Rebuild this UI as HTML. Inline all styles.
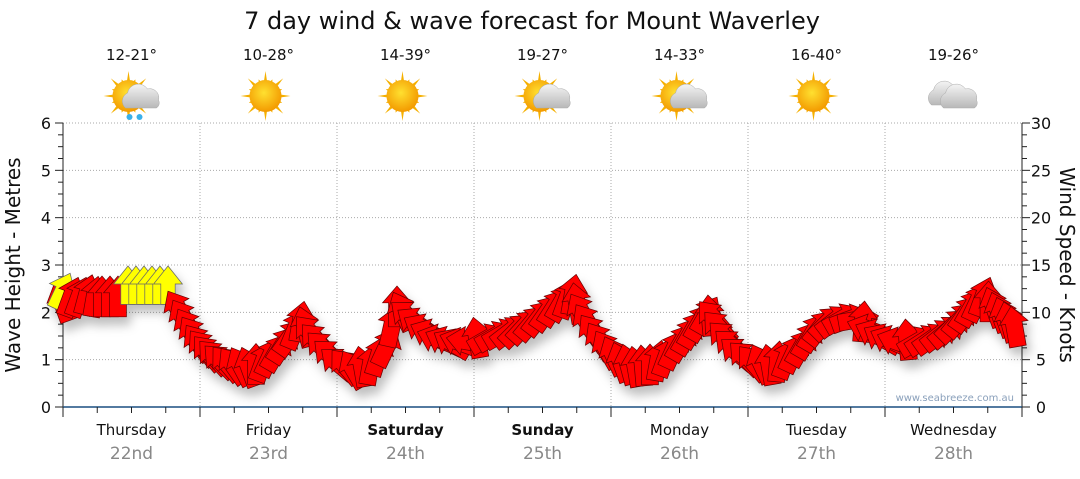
<!DOCTYPE html>
<html><head><meta charset="utf-8"><style>
body{margin:0;background:#fff;width:1080px;height:475px;overflow:hidden;font-family:"DejaVu Sans","Liberation Sans",sans-serif}
</style></head><body>
<svg id="s" width="1080" height="475" xmlns="http://www.w3.org/2000/svg" font-family="DejaVu Sans, Liberation Sans, sans-serif">
<defs>
<radialGradient id="sun" cx="45%" cy="40%" r="60%"><stop offset="0" stop-color="#ffe030"/><stop offset="1" stop-color="#f39a00"/></radialGradient>
<linearGradient id="cl" x1="0" y1="0" x2="0" y2="1"><stop offset="0" stop-color="#f4f4f4"/><stop offset="1" stop-color="#b8b8b8"/></linearGradient>
<filter id="sh" x="-20%" y="-20%" width="140%" height="160%"><feDropShadow dx="4" dy="8" stdDeviation="5" flood-color="#000" flood-opacity="0.25"/></filter>
</defs>
<text x="532" y="29" font-size="24" text-anchor="middle" fill="#111">7 day wind &amp; wave forecast for Mount Waverley</text>
<g id="grid"></g>
<g id="icons"></g>
<g id="arr" filter="url(#sh)"></g>
<text x="1014" y="401" font-size="10" text-anchor="end" fill="#8aa0bb">www.seabreeze.com.au</text>
<text transform="translate(20,265) rotate(-90)" font-size="20" text-anchor="middle" fill="#111">Wave Height - Metres</text>
<text transform="translate(1060,265) rotate(90)" font-size="20" text-anchor="middle" fill="#111">Wind Speed - Knots</text>
</svg>
<script>
const NS="http://www.w3.org/2000/svg";
function el(p,t,a,txt){const e=document.createElementNS(NS,t);for(const k in a)e.setAttribute(k,a[k]);if(txt!=null)e.textContent=txt;p.appendChild(e);return e;}
const g=document.getElementById('grid');
const X0=63,X1=1022,Y0=407,Y6=123,DW=(X1-X0)/7;
for(let i=1;i<=6;i++){const y=Y0-i*(Y0-Y6)/6;el(g,'line',{x1:X0,x2:X1,y1:y,y2:y,stroke:'#aaa','stroke-dasharray':'1,2'});}
for(let d=1;d<7;d++){const x=X0+d*DW;el(g,'line',{x1:x,x2:x,y1:Y6,y2:Y0,stroke:'#aaa','stroke-dasharray':'1,2'});}
el(g,'line',{x1:X0,x2:X0,y1:Y6,y2:Y0,stroke:'#222'});
el(g,'line',{x1:X1,x2:X1,y1:Y6,y2:Y0,stroke:'#222'});
el(g,'line',{x1:X0,x2:X1,y1:Y0,y2:Y0,stroke:'#1a4f80','stroke-width':1.5});
for(let i=0;i<=24;i++){const y=Y0-i*(Y0-Y6)/24;const big=i%4==0;el(g,'line',{x1:X0-(big?8:5),x2:X0,y1:y,y2:y,stroke:'#222'});el(g,'line',{x1:X1,x2:X1+(big?8:5),y1:y,y2:y,stroke:'#222'});}
for(let i=0;i<=6;i++){const y=Y0-i*(Y0-Y6)/6;el(g,'text',{x:46,y:y+6,'font-size':16,'text-anchor':'middle',fill:'#111'},i);el(g,'text',{x:1041,y:y+6,'font-size':16,'text-anchor':'middle',fill:'#111'},i*5);}
for(let i=0;i<=28;i++){const x=X0+i*DW/4;el(g,'line',{x1:x,x2:x,y1:Y0,y2:Y0+(i%4==0?10:6),stroke:'#222'});}
const days=["Thursday","Friday","Saturday","Sunday","Monday","Tuesday","Wednesday"],dates=["22nd","23rd","24th","25th","26th","27th","28th"],temps=["12-21°","10-28°","14-39°","19-27°","14-33°","16-40°","19-26°"];
const ic=document.getElementById('icons');
function sun(cx,cy){for(let k=0;k<16;k++){const a=k*Math.PI/8,l=k%2?18:25;el(ic,'polygon',{points:`${cx+Math.cos(a-0.12)*14},${cy+Math.sin(a-0.12)*14} ${cx+Math.cos(a)*l},${cy+Math.sin(a)*l} ${cx+Math.cos(a+0.12)*14},${cy+Math.sin(a+0.12)*14}`,fill:'#f5b000'});}el(ic,'circle',{cx,cy,r:16,fill:'url(#sun)'});}
function cloud(cx,cy,s){el(ic,'path',{d:`M${cx-16},${cy+9} a9 9 0 0 1 2,-15 a11 11 0 0 1 20,-4 a9 9 0 0 1 11,11 a6 6 0 0 1 -2,8 z`,fill:'url(#cl)',stroke:'#aaa','stroke-width':0.5});}
for(let d=0;d<7;d++){const cx=X0+DW*(d+0.5);
el(g,'text',{x:cx,y:435,'font-size':15,'text-anchor':'middle',fill:'#111','font-weight':(d==2||d==3)?'bold':'normal'},days[d]);
el(g,'text',{x:cx,y:459,'font-size':17,'text-anchor':'middle',fill:'#888'},dates[d]);
el(g,'text',{x:cx,y:60,'font-size':15,'text-anchor':'middle',fill:'#111'},temps[d]);
const cy=96;
if(d==6){cloud(cx-6,cy,1);cloud(cx+6,cy+3,1);}
else{sun(cx-3,cy);if(d==0||d==3||d==4)cloud(cx+10,cy+3,1);if(d==0){el(ic,'circle',{cx:cx-2,cy:cy+21,r:3,fill:'#3ab0ea'});el(ic,'circle',{cx:cx+8,cy:cy+21,r:3,fill:'#3ab0ea'});}}
}
const pts=[[63,305,-20,'r'],[60,295,25,'y'],[70,300,20,'r'],[78,300,20,'r'],[86,298,15,'r'],[94,300,10,'r'],[102,300,0,'r'],[110,300,0,'r'],[118,300,0,'r'],[128,290,0,'y'],[136,290,0,'y'],[144,290,0,'y'],[152,290,0,'y'],[160,290,0,'y'],[168,290,0,'y'],[180,312,-30,'r'],[190,330,-30,'r'],[200,345,-35,'r'],[210,355,-40,'r'],[222,363,-45,'r'],[235,368,-35,'r'],[250,370,-20,'r'],[262,365,20,'r'],[275,355,30,'r'],[288,340,35,'r'],[300,325,10,'r'],[312,335,-40,'r'],[325,350,-45,'r'],[340,365,-50,'r'],[355,372,-30,'r'],[370,368,10,'r'],[385,350,25,'r'],[397,310,0,'r'],[410,318,-50,'r'],[425,330,-60,'r'],[440,340,-70,'r'],[455,345,-60,'r'],[470,342,-80,'r'],[485,340,60,'r'],[500,335,60,'r'],[515,332,45,'r'],[530,325,40,'r'],[545,315,35,'r'],[560,305,30,'r'],[572,298,10,'r'],[583,315,-30,'r'],[595,335,-35,'r'],[608,352,-30,'r'],[622,365,-20,'r'],[636,370,-10,'r'],[650,368,0,'r'],[665,360,20,'r'],[680,345,30,'r'],[692,332,30,'r'],[705,318,30,'r'],[715,320,-40,'r'],[727,340,-45,'r'],[740,355,-50,'r'],[755,365,-40,'r'],[770,368,-10,'r'],[785,362,20,'r'],[800,350,30,'r'],[812,335,30,'r'],[825,325,45,'r'],[840,320,60,'r'],[855,320,80,'r'],[870,330,-70,'r'],[885,340,-60,'r'],[900,343,-70,'r'],[915,343,60,'r'],[930,340,55,'r'],[945,333,50,'r'],[958,322,40,'r'],[970,310,30,'r'],[982,300,20,'r'],[995,310,-20,'r'],[1005,320,-20,'r'],[1015,330,-10,'r']];
const all=[];
for(let i=0;i<pts.length;i++){all.push(pts[i]);const n=pts[i+1];if(n&&pts[i][0]>=175&&n[3]=='r'&&pts[i][3]=='r'){all.push([(pts[i][0]+n[0])/2,(pts[i][1]+n[1])/2,(pts[i][2]+n[2])/2,'r']);}}
const A=document.getElementById('arr');
for(const [x,y,r,c] of all){const big=c=='y';const gg=el(A,'g',{transform:`translate(${x},${y}) rotate(${r}) scale(1.2)`});
el(gg,'polygon',{points:big?'-6,12 6,12 6,-5 12,-5 0,-20 -12,-5 -6,-5':'-7,14 7,14 7,-6 12,-6 0,-20 -12,-6 -7,-6',fill:big?'#ffff00':'#ff0000',stroke:big?'#666':'#600','stroke-width':0.6});}
</script>
</body></html>
